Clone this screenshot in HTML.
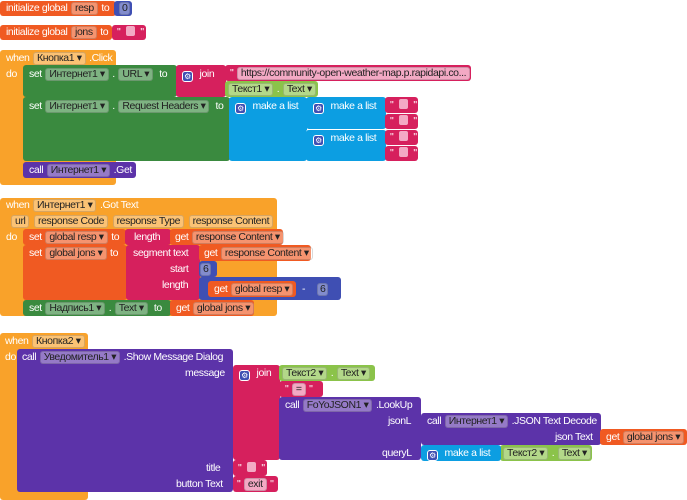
<!DOCTYPE html>
<html><head><meta charset="utf-8">
<style>
html,body{margin:0;padding:0;background:#fff;width:687px;height:500px;overflow:hidden}
body{position:relative;font-family:"Liberation Sans","Noto Sans CJK SC",sans-serif;font-size:10.5px;color:#fff;letter-spacing:-0.4px}
.b{position:absolute;box-sizing:border-box;border-radius:3px}
.t{position:absolute;white-space:nowrap;line-height:16px;color:#fff}
.c{display:inline-block;line-height:11px;padding:0 3px;border-radius:3px;background:rgba(255,255,255,0.35);border:1px solid rgba(0,0,0,0.15);color:#222;margin:0 1px}
.ev{background:#f9a22a}
.vr{background:#f05a22}
.gr{background:#3a8a3f}
.pk{background:#d6205d}
.bl{background:#0c9ee2}
.pu{background:#5c33a9}
.nv{background:#3f4fb3}
.lg{background:#8bc34a}
.q{display:inline-block;width:9px;height:10px;background:#f3a9c4;border-radius:2px;vertical-align:-1px;margin:0 3px}
.g{display:inline-block;width:11px;height:11px;background:#3f4fb3;border:1px solid #fff;border-radius:3px;box-sizing:border-box;vertical-align:-2px;font-size:8px;line-height:9px;text-align:center;margin-right:4px}
</style></head><body>

<!-- init resp -->
<div class="b vr" style="left:0;top:1px;width:116px;height:15px"></div>
<div class="t" style="left:6px;top:0">initialize global <span class="c">resp</span> to</div>
<div class="b nv" style="left:114px;top:1px;width:18px;height:15px"></div>
<div class="t" style="left:118px;top:0"><span class="c" style="padding:0 2px">0</span></div>

<!-- init jons -->
<div class="b vr" style="left:0;top:25px;width:112px;height:15px"></div>
<div class="t" style="left:6px;top:24px">initialize global <span class="c">jons</span> to</div>
<div class="b pk" style="left:112px;top:25px;width:34px;height:15px"></div>
<div class="t" style="left:117px;top:24px">" <span class="q"></span> "</div>

<!-- Кнопка1.Click -->
<div class="b ev" style="left:0;top:50px;width:116px;height:135px"></div>
<div class="t" style="left:6px;top:50px">when <span class="c">Кнопка1 ▾</span> .Click</div>
<div class="t" style="left:6px;top:66px">do</div>
<div class="b gr" style="left:23px;top:65px;width:154px;height:32px"></div>
<div class="t" style="left:29px;top:66px">set <span class="c">Интернет1 ▾</span> . <span class="c">URL ▾</span> &nbsp;to</div>
<div class="b pk" style="left:176px;top:65px;width:50px;height:32px"></div>
<div class="t" style="left:182px;top:66px"><span class="g">⚙</span> join</div>
<div class="b pk" style="left:225px;top:65px;width:246px;height:16px"></div>
<div class="t" style="left:230px;top:65px">" <span class="c" style="background:#f3a9c4">https://community-open-weather-map.p.rapidapi.co...</span> "</div>
<div class="b lg" style="left:225px;top:81px;width:93px;height:16px"></div>
<div class="t" style="left:227px;top:81px"><span class="c">Текст1 ▾</span> . <span class="c">Text ▾</span></div>
<div class="b gr" style="left:23px;top:97px;width:207px;height:64px"></div>
<div class="t" style="left:29px;top:98px">set <span class="c">Интернет1 ▾</span> . <span class="c">Request Headers ▾</span> &nbsp;to</div>
<div class="b bl" style="left:229px;top:97px;width:78px;height:64px"></div>
<div class="t" style="left:235px;top:98px"><span class="g">⚙</span> make a list</div>
<div class="b bl" style="left:306px;top:97px;width:80px;height:32px"></div>
<div class="t" style="left:313px;top:98px"><span class="g">⚙</span> make a list</div>
<div class="b bl" style="left:306px;top:129px;width:80px;height:32px;border-top:1px solid #fff"></div>
<div class="t" style="left:313px;top:130px"><span class="g">⚙</span> make a list</div>
<div class="b pk" style="left:385px;top:97px;width:33px;height:16px"></div>
<div class="b pk" style="left:385px;top:114px;width:33px;height:15px"></div>
<div class="b pk" style="left:385px;top:130px;width:33px;height:15px"></div>
<div class="b pk" style="left:385px;top:146px;width:33px;height:15px"></div>
<div class="t" style="left:390px;top:97px">" <span class="q"></span> "</div>
<div class="t" style="left:390px;top:113px">" <span class="q"></span> "</div>
<div class="t" style="left:390px;top:129px">" <span class="q"></span> "</div>
<div class="t" style="left:390px;top:145px">" <span class="q"></span> "</div>
<div class="b pu" style="left:23px;top:162px;width:113px;height:16px"></div>
<div class="t" style="left:29px;top:162px">call <span class="c">Интернет1 ▾</span> .Get</div>

<!-- Интернет1.GotText -->
<div class="b ev" style="left:0;top:198px;width:277px;height:118px"></div>
<div class="t" style="left:6px;top:197px">when <span class="c">Интернет1 ▾</span> .Got Text</div>
<div class="t" style="left:10px;top:213px"><span class="c">url</span> <span class="c">response Code</span> <span class="c">response Type</span> <span class="c">response Content</span></div>
<div class="t" style="left:6px;top:229px">do</div>
<div class="b vr" style="left:23px;top:229px;width:103px;height:16px"></div>
<div class="t" style="left:29px;top:229px">set <span class="c">global resp ▾</span> to</div>
<div class="b pk" style="left:125px;top:229px;width:46px;height:16px"></div>
<div class="t" style="left:134px;top:229px">length</div>
<div class="b vr" style="left:170px;top:229px;width:113px;height:16px"></div>
<div class="t" style="left:175px;top:229px">get <span class="c">response Content ▾</span></div>
<div class="b vr" style="left:23px;top:245px;width:104px;height:55px"></div>
<div class="t" style="left:29px;top:245px">set <span class="c">global jons ▾</span> to</div>
<div class="b pk" style="left:126px;top:245px;width:74px;height:55px"></div>
<div class="t" style="left:133px;top:245px">segment text</div>
<div class="t" style="left:170px;top:261px">start</div>
<div class="t" style="left:162px;top:277px">length</div>
<div class="b vr" style="left:199px;top:245px;width:112px;height:16px"></div>
<div class="t" style="left:204px;top:245px">get <span class="c">response Content ▾</span></div>
<div class="b nv" style="left:199px;top:261px;width:18px;height:16px"></div>
<div class="t" style="left:199px;top:261px"><span class="c" style="padding:0 2px">6</span></div>
<div class="b nv" style="left:199px;top:277px;width:142px;height:23px"></div>
<div class="b vr" style="left:208px;top:281px;width:88px;height:16px"></div>
<div class="t" style="left:214px;top:281px">get <span class="c">global resp ▾</span></div>
<div class="t" style="left:302px;top:281px">-</div>
<div class="t" style="left:316px;top:281px"><span class="c" style="padding:0 2px">6</span></div>
<div class="b gr" style="left:23px;top:300px;width:148px;height:16px"></div>
<div class="t" style="left:29px;top:300px">set <span class="c">Надпись1 ▾</span> . <span class="c">Text ▾</span> &nbsp;to</div>
<div class="b vr" style="left:170px;top:300px;width:84px;height:16px"></div>
<div class="t" style="left:176px;top:300px">get <span class="c">global jons ▾</span></div>

<!-- Кнопка2.Click -->
<div class="b ev" style="left:0;top:333px;width:88px;height:167px"></div>
<div class="t" style="left:5px;top:333px">when <span class="c">Кнопка2 ▾</span> .Click</div>
<div class="t" style="left:5px;top:349px">do</div>
<div class="b pu" style="left:17px;top:349px;width:216px;height:143px"></div>
<div class="t" style="left:22px;top:349px">call <span class="c">Уведомитель1 ▾</span> .Show Message Dialog</div>
<div class="t" style="left:185px;top:365px">message</div>
<div class="t" style="left:206px;top:460px">title</div>
<div class="t" style="left:176px;top:476px">button Text</div>
<div class="b pk" style="left:233px;top:365px;width:47px;height:95px"></div>
<div class="t" style="left:239px;top:365px"><span class="g">⚙</span> join</div>
<div class="b lg" style="left:279px;top:365px;width:96px;height:16px"></div>
<div class="t" style="left:281px;top:365px"><span class="c">Текст2 ▾</span> . <span class="c">Text ▾</span></div>
<div class="b pk" style="left:279px;top:381px;width:44px;height:16px"></div>
<div class="t" style="left:285px;top:381px">" <span class="c" style="background:#f3a9c4;padding:0 3px">=</span> "</div>
<div class="b pu" style="left:279px;top:397px;width:142px;height:63px"></div>
<div class="t" style="left:285px;top:397px">call <span class="c">FoYoJSON1 ▾</span> .LookUp</div>
<div class="t" style="left:388px;top:413px">jsonL</div>
<div class="t" style="left:382px;top:445px">queryL</div>
<div class="b pu" style="left:421px;top:413px;width:180px;height:32px"></div>
<div class="t" style="left:427px;top:413px">call <span class="c">Интернет1 ▾</span> .JSON Text Decode</div>
<div class="t" style="left:555px;top:429px">json Text</div>
<div class="b vr" style="left:600px;top:429px;width:87px;height:16px"></div>
<div class="t" style="left:606px;top:429px">get <span class="c">global jons ▾</span></div>
<div class="b lg" style="left:500px;top:445px;width:92px;height:16px"></div>
<div class="b bl" style="left:421px;top:445px;width:80px;height:16px"></div>
<div class="t" style="left:427px;top:445px"><span class="g">⚙</span> make a list</div>
<div class="t" style="left:502px;top:445px"><span class="c">Текст2 ▾</span> . <span class="c">Text ▾</span></div>
<div class="b pk" style="left:233px;top:460px;width:34px;height:16px"></div>
<div class="t" style="left:238px;top:460px">" <span class="q"></span> "</div>
<div class="b pk" style="left:233px;top:476px;width:45px;height:16px"></div>
<div class="t" style="left:237px;top:476px">" <span class="c" style="background:#f3a9c4">exit</span> "</div>

</body></html>
